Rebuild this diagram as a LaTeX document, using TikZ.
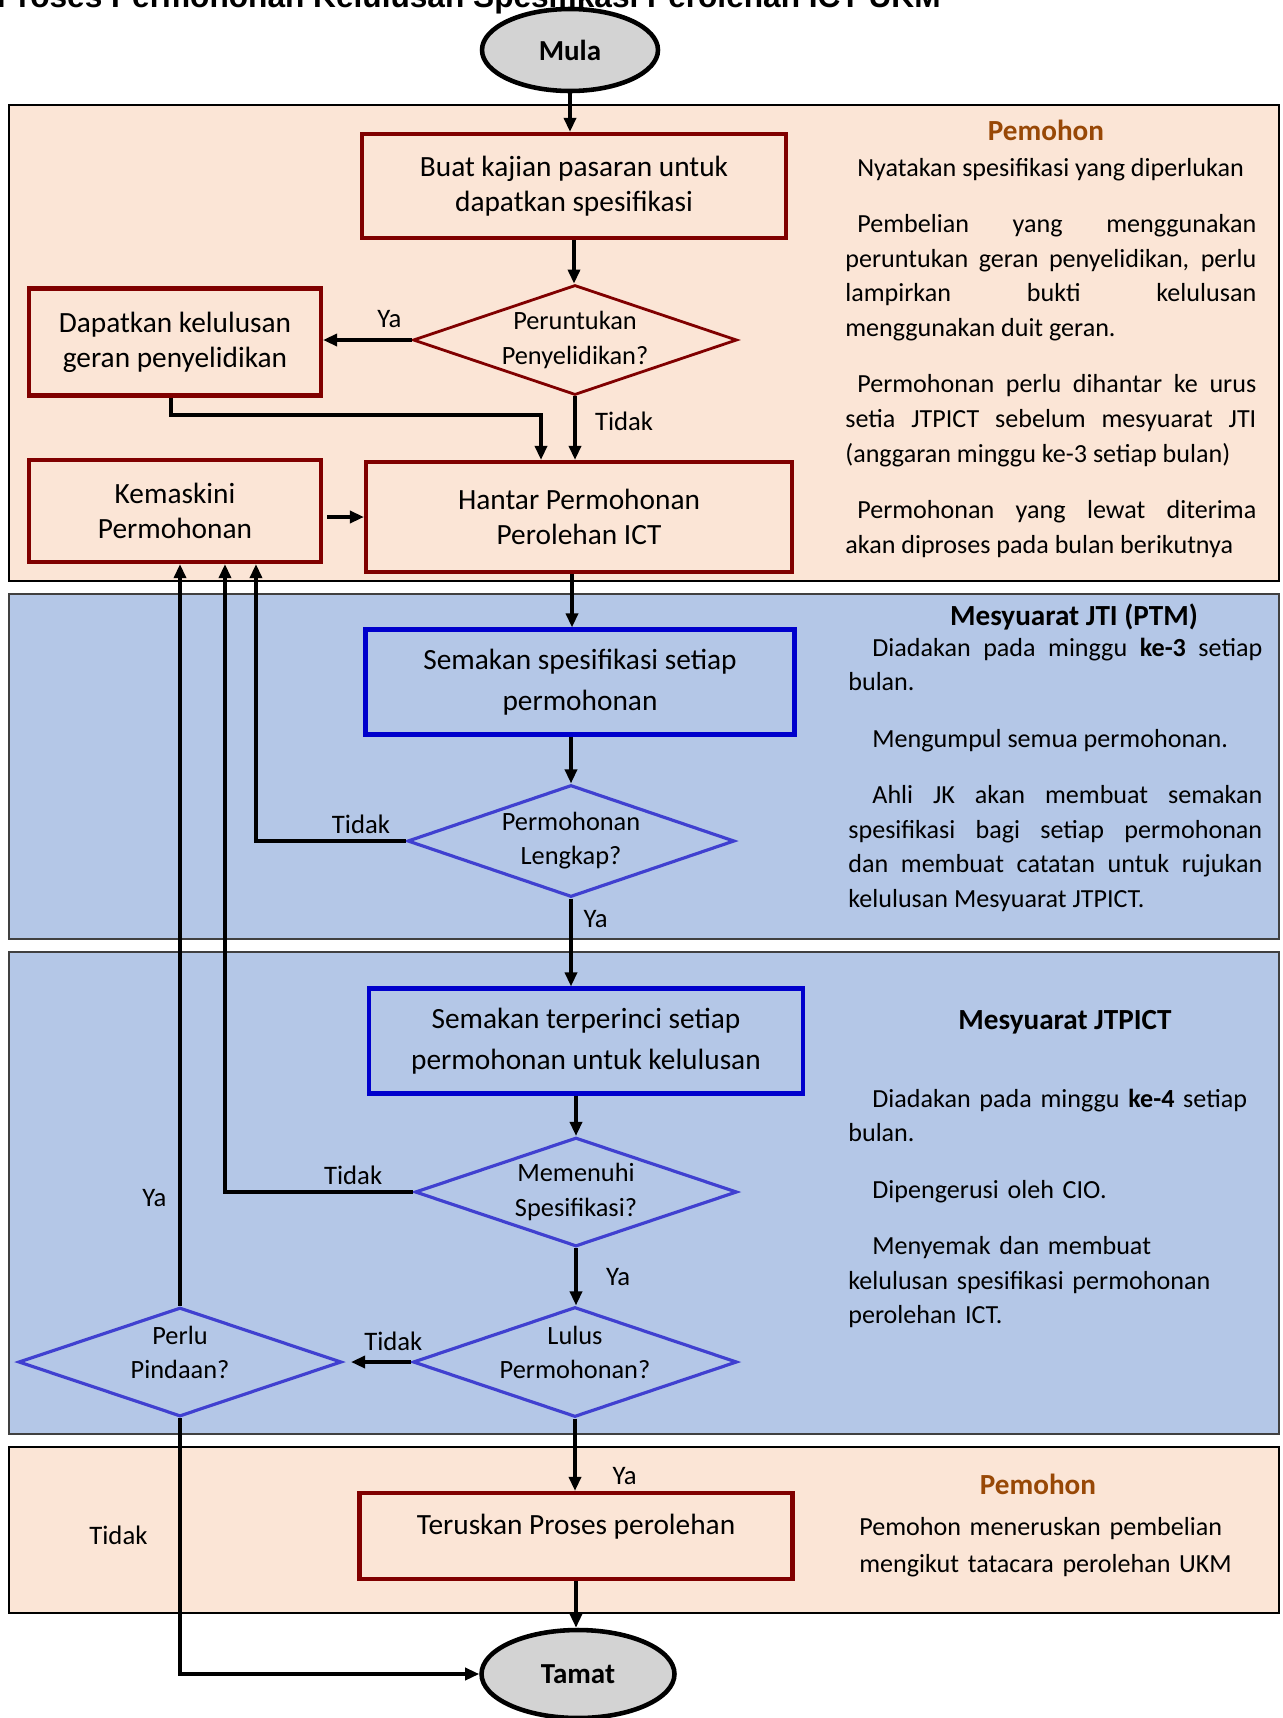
\documentclass[tikz,border=0pt]{standalone}
\usepackage{fontspec}
\setmainfont{Carlito}
\newfontfamily\titlefont{Liberation Sans}
\usepackage{tikz}
\usetikzlibrary{shapes.geometric,arrows.meta,positioning,calc}
\definecolor{pinkbg}{RGB}{251,229,214}
\definecolor{bluebg}{RGB}{180,199,231}
\definecolor{maroonline}{RGB}{128,0,0}
\definecolor{blueline}{RGB}{0,0,204}
\definecolor{diablue}{RGB}{64,64,208}
\definecolor{headbrown}{RGB}{152,72,6}
\definecolor{termgray}{RGB}{211,211,211}
\newcommand{\gap}{\par\vspace{12pt}}
\newcommand{\ind}[1]{\hspace*{#1}}

\begin{document}
\begin{tikzpicture}[x=0.02cm,y=-0.02cm,
	panelpink/.style={fill=pinkbg,draw=black,line width=0.9pt},
	panelblue/.style={fill=bluebg,draw=black!75,line width=0.9pt},
	term/.style={ellipse,draw=black,line width=2.6pt,fill=termgray,inner sep=0pt,font=\fontsize{16.5}{20}\selectfont\bfseries},
	redbox/.style={rectangle,draw=maroonline,line width=2.4pt,align=center,font=\fontsize{16.7}{20}\selectfont},
	bluebox/.style={rectangle,draw=blueline,line width=2.4pt,align=center,font=\fontsize{16.7}{23}\selectfont},
	reddia/.style={diamond,draw=maroonline,line width=1.6pt,shape aspect=2.95,inner sep=0pt,align=center,font=\fontsize{15}{19.4}\selectfont},
	bluedia/.style={reddia,draw=diablue,line width=1.8pt},
	diatext/.style={align=center,inner sep=0pt,font=\fontsize{15}{19.4}\selectfont},
	arr/.style={-{Triangle[length=0.28cm,width=0.24cm]},line width=1.9pt},
	lbl/.style={font=\fontsize{15.2}{19}\selectfont},
	head/.style={font=\fontsize{16.6}{20}\selectfont\bfseries},
	note/.style={anchor=base west,inner sep=0pt,font=\fontsize{14.85}{19.9}\selectfont}]
	\useasboundingbox (0,0) rectangle (1282,1718);
	
	% panels
	\draw[panelpink] (9,105) rectangle (1279,581);
	\draw[panelblue] (9,594) rectangle (1279,939);
	\draw[panelblue] (9,952) rectangle (1279,1434);
	\draw[panelpink] (9,1447) rectangle (1279,1613);
	
	\node[anchor=base east,inner sep=0pt,font=\titlefont\fontsize{18}{20}\selectfont\bfseries] (title) at (941,7) {Proses Permohonan Kelulusan Spesifikasi Perolehan ICT UKM};
	
	\node[term,minimum width=3.52cm,minimum height=1.64cm] (mula) at (570,50) {Mula};
	\node[redbox,minimum width=8.48cm,minimum height=2.08cm] (kajian) at (574,186) {Buat kajian pasaran untuk\\dapatkan spesifikasi};
	\node[reddia,minimum width=6.48cm,minimum height=2.2cm] (peruntukan) at (575,340) {Peruntukan\\Penyelidikan?};
	\node[redbox,minimum width=5.84cm,minimum height=2.14cm] (geran) at (175,342) {Dapatkan kelulusan\\geran penyelidikan};
	\node[redbox,minimum width=8.52cm,minimum height=2.2cm] (hantar) at (579,517) {Hantar Permohonan\\Perolehan ICT};
	\node[redbox,minimum width=5.84cm,minimum height=2.04cm] (kemaskini) at (175,511) {Kemaskini\\Permohonan};
	\node[bluebox,minimum width=8.58cm,minimum height=2.1cm] (semak) at (580,682) {Semakan spesifikasi setiap\\permohonan};
	\node[bluedia,minimum width=6.54cm,minimum height=2.24cm] (lengkap) at (571,841) {Permohonan\\Lengkap?};
	\node[bluebox,minimum width=8.68cm,minimum height=2.1cm] (teliti) at (586,1041) {Semakan terperinci setiap\\permohonan untuk kelulusan};
	\node[bluedia,minimum width=6.44cm,minimum height=2.18cm] (memenuhi) at (576,1192) {Memenuhi\\Spesifikasi?};
	\node[bluedia,minimum width=6.48cm,minimum height=2.2cm] (lulus) at (575,1362) {};
	\node[diatext] (lulusT) at (575,1352) {Lulus\\Permohonan?};
	\node[bluedia,minimum width=6.46cm,minimum height=2.18cm] (pindaan) at (180,1362) {};
	\node[diatext] (pindaanT) at (180,1352) {Perlu\\Pindaan?};
	\node[redbox,minimum width=8.66cm,minimum height=1.72cm,text depth=0.45cm] (teruskan) at (576,1536) {Teruskan Proses perolehan};
	\node[term,minimum width=3.86cm,minimum height=1.76cm] (tamat) at (578,1674) {Tamat};
	
	\coordinate (j1) at (541,415);
	\draw[arr] (mula.south) -- (mula.south |- kajian.north);
	\draw[arr] (kajian.south) -- (kajian.south |- peruntukan.north);
	\draw[arr] (peruntukan.west) -- (peruntukan.west -| geran.east) node[lbl,pos=0.25,above=3pt] (ya1) {Ya};
	\draw[arr] ([xshift=-0.08cm]geran.south) |- (j1) -- (j1 |- hantar.north);
	\draw[arr] (peruntukan.south) -- (peruntukan.south |- hantar.north) node[lbl,pos=0.4,right=0.25cm] (tidak1) {Tidak};
	\draw[arr] ([xshift=0.08cm]kemaskini.east |- hantar.west) -- (hantar.west);
	\draw[arr] ([xshift=-0.14cm]hantar.south) -- ([xshift=-0.14cm]hantar.south |- semak.north);
	\draw[arr] (semak.south -| lengkap.north) -- (lengkap.north);
	\draw[arr] (lengkap.west) -| ([xshift=1.62cm]kemaskini.south) node[lbl,pos=0.15,above] (tidak2) {Tidak};
	\draw[arr] (lengkap.south) -- (lengkap.south |- teliti.north) node[lbl,pos=0.23,right=0.1cm] (ya2) {Ya};
	\draw[arr] (teliti.south -| memenuhi.north) -- (memenuhi.north);
	\draw[arr] (memenuhi.west) -| ([xshift=1cm]kemaskini.south) node[lbl,pos=0.16,above] (tidak3) {Tidak};
	\draw[arr] (memenuhi.south) -- (memenuhi.south |- lulus.north) node[lbl,midway,right=0.45cm] (ya3) {Ya};
	\draw[arr] (lulus.west) -- ([xshift=0.16cm]pindaan.east) node[lbl,pos=0.3,above=2pt] (tidak4) {Tidak};
	\draw[arr] (pindaan.north) -- (pindaan.north |- kemaskini.south) node[lbl,pos=0.145,left=0.12cm] (ya4) {Ya};
	\draw[arr] (pindaan.south) |- (tamat.west) node[lbl,pos=0.23,left=0.5cm] (tidak5) {Tidak};
	\draw[arr] (lulus.south) -- (lulus.south |- teruskan.north) node[lbl,pos=0.8,right=0.6cm] (ya5) {Ya};
	\draw[arr] (teruskan.south) -- (teruskan.south |- tamat.north);
	
	% right-hand notes
	\node[head,text=headbrown] (pemohonA) at (1046,130) {Pemohon};
	\node[note,text width=8.22cm,align=justify] (notaA) at (845,176) {\tolerance=10000\hbadness=10000
		\ind{6.8pt}Nyatakan spesifikasi yang diperlukan\gap
		\ind{6.8pt}Pembelian yang menggunakan\linebreak peruntukan geran penyelidikan, perlu\linebreak lampirkan bukti kelulusan\linebreak menggunakan duit geran.\gap
		\ind{6.8pt}Permohonan perlu dihantar ke urus\linebreak setia JTPICT sebelum mesyuarat JTI\linebreak (anggaran minggu ke-3 setiap bulan)\gap
		\ind{6.8pt}Permohonan yang lewat diterima\linebreak akan diproses pada bulan berikutnya};
	\node[head] (jti) at (1074,617) {Mesyuarat JTI (PTM)};
	\node[note,text width=8.28cm,align=justify] (notaB) at (848,656) {\tolerance=10000\hbadness=10000
		\ind{13.7pt}Diadakan pada minggu \textbf{ke-3} setiap\linebreak bulan.\gap
		\ind{13.7pt}Mengumpul semua permohonan.\gap
		\ind{13.7pt}Ahli JK akan membuat semakan\linebreak spesifikasi bagi setiap permohonan\linebreak dan membuat catatan untuk rujukan\linebreak kelulusan Mesyuarat JTPICT.};
	\node[head] (jtpict) at (1065,1022) {Mesyuarat JTPICT};
	\node[note,text width=8.28cm] (notaC) at (848,1107) {\raggedright
		\ind{13.7pt}Diadakan pada minggu \textbf{ke-4} setiap\\bulan.\gap
		\ind{13.7pt}Dipengerusi oleh CIO.\gap
		\ind{13.7pt}Menyemak dan membuat\\kelulusan spesifikasi permohonan\\perolehan ICT.};
	\node[head,text=headbrown] (pemohonB) at (1038,1484) {Pemohon};
	\node[note,text width=8cm,align=left,font=\fontsize{14.85}{21.6}\selectfont] (notaD) at (859,1535) {Pemohon meneruskan pembelian\\mengikut tatacara perolehan UKM};
\end{tikzpicture}
\end{document}
